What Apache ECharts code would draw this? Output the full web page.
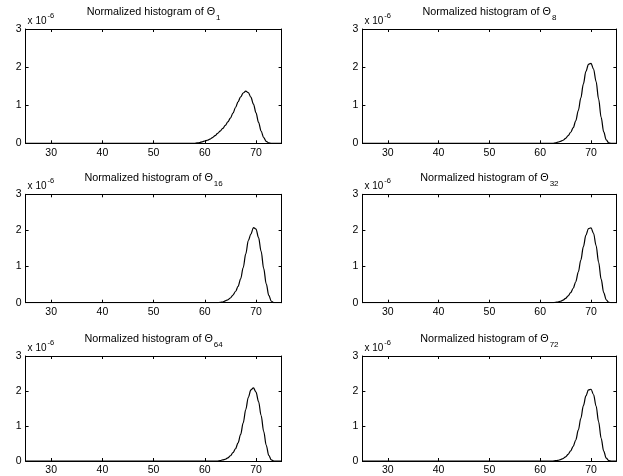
<!DOCTYPE html>
<html><head><meta charset="utf-8">
<script src="https://cdn.jsdelivr.net/npm/echarts@6/dist/echarts.min.js"></script>
<style>html,body{margin:0;padding:0;background:#fff}#c{width:623px;height:476px}</style>
</head><body><div id="c"></div>
<script>
// x positions of the histogram curve samples
const xs = [25, 55, 58, 58.5, 59, 59.5, 60, 60.5, 61, 61.5, 62, 62.5, 63, 63.5, 64, 64.5, 65, 65.5, 66, 66.5, 67, 67.5, 68, 68.5, 69, 69.5, 70, 70.5, 71, 71.5, 72, 72.5, 73, 73.5, 74, 75];
// values in units of 1e-6
const theta1  = [0,0,0,0.01,0.02,0.04,0.06,0.08,0.11,0.15,0.2,0.26,0.32,0.39,0.47,0.56,0.66,0.79,0.94,1.09,1.22,1.32,1.37,1.33,1.21,1.03,0.8,0.55,0.32,0.15,0.05,0.01,0,0,0,0];
const theta8  = [0,0,0,0,0,0,0,0,0,0,0,0,0.01,0.03,0.05,0.08,0.13,0.2,0.29,0.41,0.59,0.86,1.19,1.56,1.89,2.07,2.1,1.95,1.62,1.16,0.68,0.3,0.09,0.01,0,0];
const theta16 = [0,0,0,0,0,0,0,0,0,0,0,0,0.01,0.02,0.05,0.08,0.13,0.21,0.31,0.45,0.66,0.97,1.35,1.72,1.9,2.08,2.04,1.8,1.42,0.95,0.52,0.2,0.04,0,0,0];
const theta32 = [0,0,0,0,0,0,0,0,0,0,0,0,0.01,0.02,0.04,0.07,0.12,0.19,0.28,0.4,0.58,0.85,1.18,1.55,1.87,2.05,2.07,1.92,1.58,1.12,0.65,0.28,0.08,0.01,0,0];
const theta64 = [0,0,0,0,0,0,0,0,0,0,0,0,0.01,0.03,0.05,0.09,0.15,0.24,0.35,0.52,0.76,1.09,1.47,1.82,2.03,2.09,1.97,1.7,1.3,0.85,0.45,0.16,0.03,0,0,0];
const theta72 = [0,0,0,0,0,0,0,0,0,0,0,0,0.01,0.02,0.04,0.07,0.12,0.19,0.29,0.42,0.6,0.88,1.22,1.58,1.86,2.03,2.05,1.9,1.57,1.12,0.65,0.28,0.08,0.01,0,0];
const subscripts = ['1', '8', '16', '32', '64', '72'];
const seriesValues = [theta1, theta8, theta16, theta32, theta64, theta72];
const xTicks = [30, 40, 50, 60, 70];
const yTicks = [0, 1, 2, 3];
const xRange = [25, 75];
const yRange = [0, 3];

const FONT = "'Liberation Sans', Arial, Helvetica, sans-serif";
const colLeft = [25.6, 362.4], colWidth = [256, 254];
const rowTop = [29, 194.3, 356], rowHeight = [114.3, 108.4, 107.3];

const grids = [], xAxes = [], yAxes = [], series = [], titles = [];
const tick = {show: true, inside: true, length: 3, lineStyle: {color: '#000', width: 1}};
const line = {show: true, onZero: false, lineStyle: {color: '#000', width: 1}};
for (let i = 0; i < 6; i++) {
  const c = i % 2, r = Math.floor(i / 2);
  const L = colLeft[c], T = rowTop[r], W = colWidth[c], H = rowHeight[r];
  grids.push({left: L, top: T, width: W, height: H, containLabel: false});
  xAxes.push({type: 'value', gridIndex: i, position: 'bottom', min: xRange[0], max: xRange[1],
    axisLine: line, axisTick: Object.assign({customValues: xTicks}, tick), splitLine: {show: false},
    axisLabel: {customValues: xTicks, color: '#000', fontFamily: FONT, fontSize: 10.5, margin: 4}});
  xAxes.push({type: 'value', gridIndex: i, position: 'top', min: xRange[0], max: xRange[1],
    axisLine: line, axisTick: Object.assign({customValues: xTicks}, tick), splitLine: {show: false},
    axisLabel: {show: false}});
  yAxes.push({type: 'value', gridIndex: i, position: 'left', min: yRange[0], max: yRange[1],
    axisLine: line, axisTick: Object.assign({customValues: yTicks}, tick), splitLine: {show: false},
    axisLabel: {customValues: yTicks, color: '#000', fontFamily: FONT, fontSize: 10.5, margin: 4},
    name: '{a|x 10}{b|-6}', nameLocation: 'end', nameGap: 3,
    nameTextStyle: {align: 'left', verticalAlign: 'bottom', padding: [0, 0, 0, 2],
      rich: {a: {fontSize: 10, fontFamily: FONT, color: '#000', fontWeight: 'normal', verticalAlign: 'bottom', lineHeight: 14},
             b: {fontSize: 7.5, fontFamily: FONT, color: '#000', fontWeight: 'normal', verticalAlign: 'top', padding: [0, 0, 6, 1]}}}});
  yAxes.push({type: 'value', gridIndex: i, position: 'right', min: yRange[0], max: yRange[1],
    axisLine: line, axisTick: Object.assign({customValues: yTicks}, tick), splitLine: {show: false},
    axisLabel: {show: false}});
  series.push({type: 'line', xAxisIndex: 2 * i, yAxisIndex: 2 * i, symbol: 'none', smooth: 0.35,
    smoothMonotone: 'x', silent: true, lineStyle: {color: '#000', width: 1.2},
    data: xs.map((x, k) => [x, seriesValues[i][k]])});
  titles.push({text: '{a|Normalized histogram of Θ}{s|' + subscripts[i] + '}', left: L + W / 2, textAlign: 'center',
    top: T - 22, padding: 0,
    textStyle: {fontWeight: 'normal', rich: {
      a: {fontSize: 10.8, fontFamily: FONT, color: '#000', fontWeight: 'normal', verticalAlign: 'top'},
      s: {fontSize: 8, fontFamily: FONT, color: '#000', fontWeight: 'normal', verticalAlign: 'bottom', padding: [7, 0, 0, 1]}}}});
}
const chart = echarts.init(document.getElementById('c'), null, {renderer: 'canvas'});
chart.setOption({animation: false, backgroundColor: '#fff', title: titles, grid: grids, xAxis: xAxes, yAxis: yAxes, series: series});
</script></body></html>
